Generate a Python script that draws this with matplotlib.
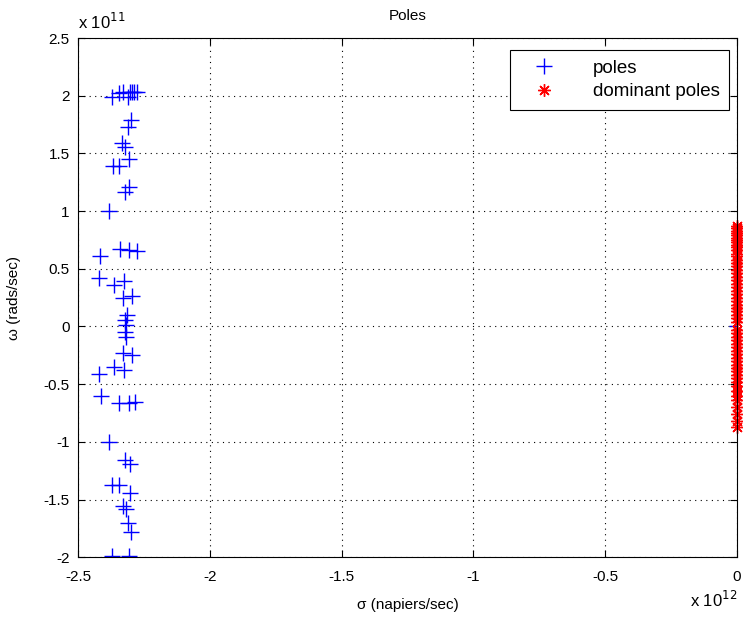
import numpy as np
import matplotlib
matplotlib.use("Agg")
import matplotlib.pyplot as plt
from matplotlib.ticker import FuncFormatter, MultipleLocator

# poles: sigma in units of 1e12 napiers/sec, omega in units of 1e11 rads/sec
pole_sigma = [-2.371, -2.344, -2.329, -2.310, -2.303, -2.295, -2.288, -2.276,
              -2.299, -2.310, -2.333, -2.322, -2.307, -2.367, -2.344,
              -2.305, -2.322, -2.382, -2.417, -2.341, -2.307, -2.276,
              -2.420, -2.363, -2.325, -2.295, -2.329, -2.314, -2.323, -2.318,
              -2.323, -2.318, -2.329, -2.295, -2.363, -2.325, -2.420,
              -2.413, -2.344, -2.307, -2.284, -2.382, -2.322, -2.303,
              -2.371, -2.344, -2.303, -2.329, -2.318, -2.310, -2.299,
              -2.371, -2.307, 0.0]
pole_omega = [1.99, 2.02, 2.03, 1.99, 2.03, 2.03, 2.03, 2.03,
              1.79, 1.73, 1.59, 1.56, 1.45, 1.39, 1.39,
              1.21, 1.17, 1.00, 0.61, 0.67, 0.66, 0.65,
              0.42, 0.36, 0.39, 0.26, 0.25, 0.10, 0.06, 0.01,
              -0.05, -0.09, -0.23, -0.25, -0.35, -0.38, -0.41,
              -0.60, -0.66, -0.66, -0.655, -1.00, -1.16, -1.19,
              -1.375, -1.375, -1.44, -1.556, -1.58, -1.705, -1.78,
              -1.99, -1.99, 0.0]

# dominant poles, same units
dom_sigma = [-0.002] * 56
dom_omega = [0.87, 0.85, 0.83, 0.81, 0.79, 0.77, 0.75, 0.73, 0.71, 0.69,
             0.66, 0.63, 0.61, 0.58, 0.55, 0.52, 0.49, 0.46, 0.43, 0.40,
             0.37, 0.34, 0.31, 0.28, 0.25, 0.22, 0.19, 0.16, 0.13, 0.10,
             0.07, 0.04, -0.03, -0.06, -0.09, -0.12, -0.15, -0.18, -0.21,
             -0.24, -0.27, -0.30, -0.33, -0.36, -0.39, -0.42, -0.45, -0.48,
             -0.52, -0.56, -0.60, -0.64, -0.70, -0.76, -0.82, -0.87]

plt.rcParams['font.family'] = ['Liberation Sans', 'DejaVu Sans']
plt.rcParams['font.size'] = 11

fig = plt.figure(figsize=(7.43, 6.24), dpi=100)
ax = fig.add_axes([0.105, 0.107, 0.887, 0.832])

ax.plot(np.array(pole_sigma) * 1e12, np.array(pole_omega) * 1e11, '+',
        color='#0000ff', markersize=12, markeredgewidth=1.0, label='poles')
dom, = ax.plot(np.array(dom_sigma) * 1e12, np.array(dom_omega) * 1e11,
               linestyle='none', marker=(8, 2, 0), color='#ff0000',
               markersize=9, markeredgewidth=1.0, label='dominant poles')
dom.set_clip_on(False)

ax.set_xlim(-2.5e12, 0)
ax.set_ylim(-2e11, 2.5e11)
ax.xaxis.set_major_locator(MultipleLocator(0.5e12))
ax.yaxis.set_major_locator(MultipleLocator(0.5e11))
ax.xaxis.set_major_formatter(FuncFormatter(lambda v, p: f'{v / 1e12:g}'))
ax.yaxis.set_major_formatter(FuncFormatter(lambda v, p: f'{v / 1e11:g}'))
ax.tick_params(direction='in', length=5, top=True, right=True, labelsize=11)
ax.tick_params(axis='x', pad=9)
ax.tick_params(axis='y', pad=6)
ax.grid(True, linestyle=(0, (1, 4)), color='black', linewidth=0.8)
for s in ax.spines.values():
    s.set_linewidth(0.8)

ax.text(0.0, 1.012, r'x 10$^{11}$', transform=ax.transAxes,
        ha='left', va='bottom', fontsize=12)
ax.text(1.0, -0.062, r'x 10$^{12}$', transform=ax.transAxes,
        ha='right', va='top', fontsize=12)

ax.set_title('Poles', fontsize=11, pad=13)
ax.set_xlabel('σ (napiers/sec)', fontsize=11, labelpad=10)
ax.set_ylabel('ω (rads/sec)', fontsize=11, labelpad=16)

leg = ax.legend(loc='upper right', fancybox=False, edgecolor='black',
                framealpha=1, borderpad=0.5, handlelength=2.6,
                handletextpad=1.3, fontsize=13.5, borderaxespad=0,
                labelspacing=0.35, bbox_to_anchor=(0.988, 0.977))
leg.get_frame().set_linewidth(0.8)

fig.savefig('out.png', dpi=100)
